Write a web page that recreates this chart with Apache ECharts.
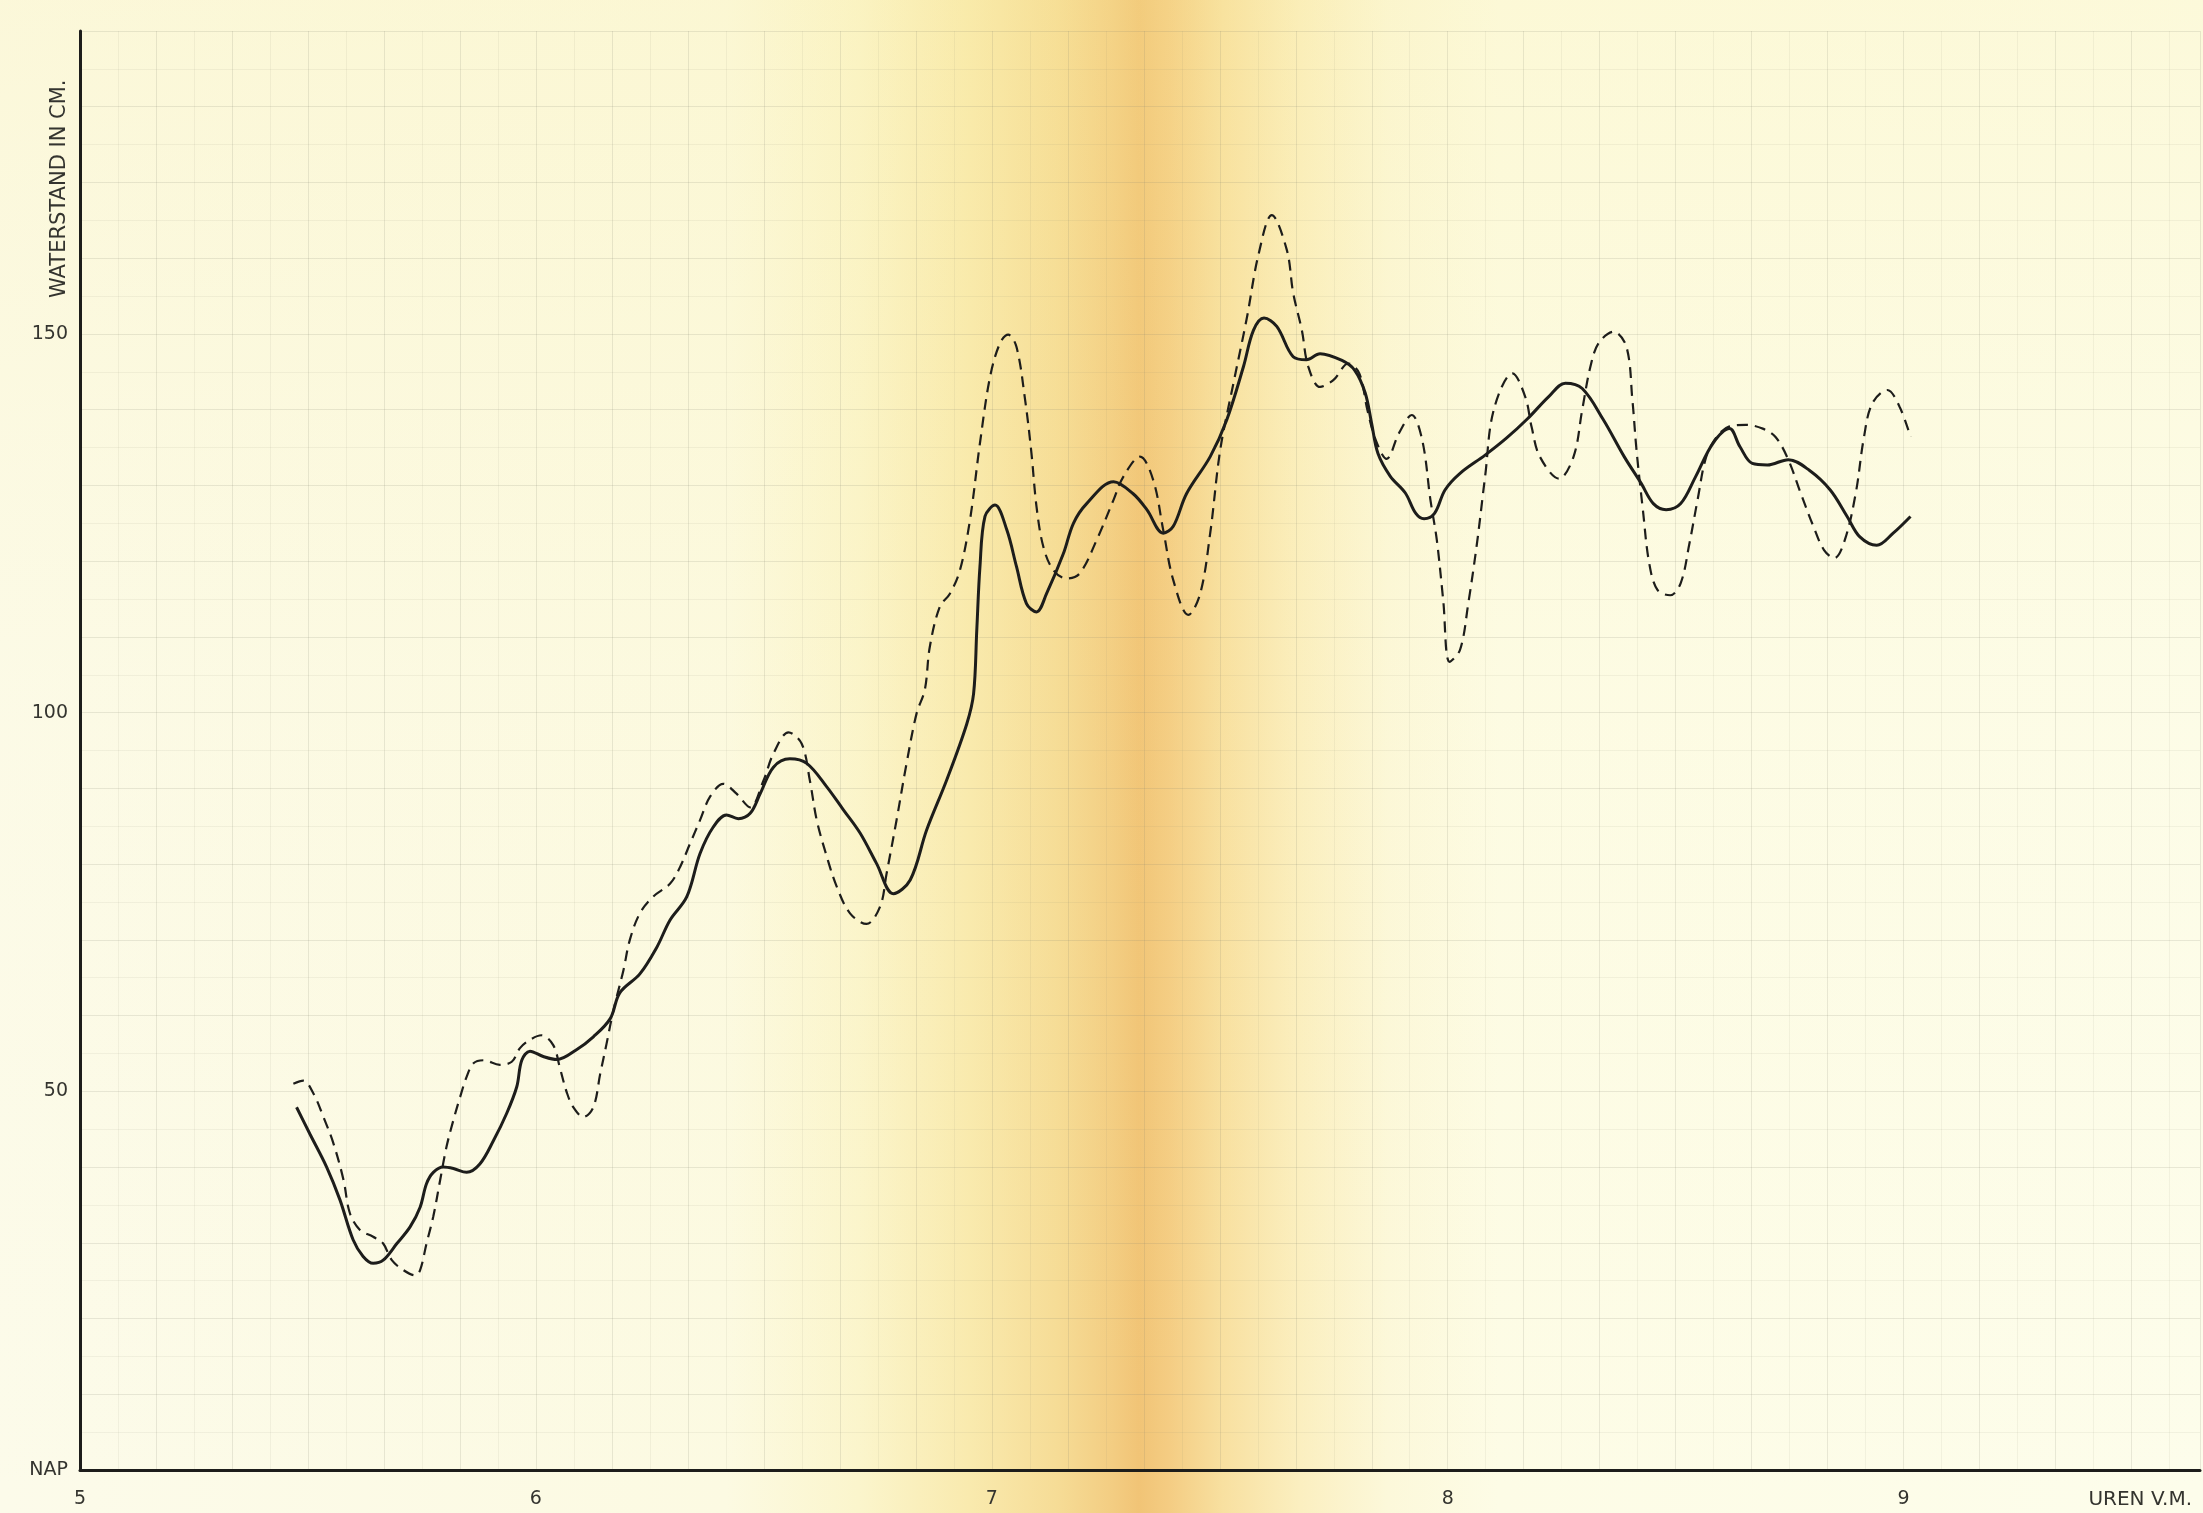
<!DOCTYPE html>
<html>
<head>
<meta charset="utf-8">
<title>Waterstand</title>
<script src="https://cdn.jsdelivr.net/npm/echarts@6/dist/echarts.min.js"></script>
<style>
  html, body { margin: 0; padding: 0; background: #fcfbea; }
  #chart { width: 2203px; height: 1513px; }
</style>
</head>
<body>
<div id="chart"></div>
<script>
// Time in hours (v.m.) and water level in cm above NAP.
const solidHours = [
  5.475, 5.504, 5.541, 5.570, 5.599, 5.621, 5.643, 5.665, 5.695, 5.724,
  5.746, 5.760, 5.775, 5.797, 5.819, 5.848, 5.877, 5.907, 5.936, 5.958,
  5.969, 5.987, 6.016, 6.046, 6.089, 6.126, 6.163, 6.184, 6.228, 6.265,
  6.294, 6.331, 6.360, 6.389, 6.418, 6.444, 6.470, 6.492, 6.521, 6.557,
  6.594, 6.638, 6.674, 6.711, 6.747, 6.784, 6.821, 6.857, 6.901, 6.945,
  6.960, 6.967, 6.974, 6.985, 7.007, 7.033, 7.054, 7.076, 7.098, 7.120,
  7.157, 7.179, 7.208, 7.267, 7.310, 7.340, 7.376, 7.398, 7.427, 7.479,
  7.515, 7.552, 7.574, 7.597, 7.625, 7.661, 7.690, 7.720, 7.768, 7.796,
  7.819, 7.833, 7.847, 7.874, 7.907, 7.930, 7.948, 7.971, 7.994, 8.027,
  8.082, 8.128, 8.175, 8.221, 8.258, 8.295, 8.341, 8.387, 8.424, 8.451,
  8.479, 8.511, 8.544, 8.581, 8.618, 8.641, 8.668, 8.701, 8.747, 8.793,
  8.839, 8.876, 8.904, 8.941, 8.977, 9.015
];
const solidLevels = [
  47.9, 44.4, 40.0, 35.7, 30.4, 28.2, 27.3, 27.7, 29.9, 32.1,
  34.7, 37.8, 39.3, 40.0, 39.8, 39.3, 40.4, 43.5, 47.1, 50.6,
  54.1, 55.3, 54.6, 54.2, 55.5, 57.2, 59.6, 63.0, 65.5, 69.0,
  72.6, 75.7, 81.4, 84.9, 86.5, 86.0, 86.7, 89.3, 92.8, 93.9,
  93.3, 90.2, 87.2, 84.1, 80.1, 76.1, 77.9, 84.5, 91.1, 98.5,
  102.5, 110.9, 119.3, 125.9, 127.4, 124.1, 119.3, 114.4, 113.3, 115.7,
  121.0, 125.0, 127.6, 130.5, 128.9, 126.8, 123.7, 124.6, 128.9, 133.8,
  138.6, 145.7, 150.5, 152.1, 151.0, 147.0, 146.6, 147.4, 146.5, 145.2,
  142.2, 138.2, 134.2, 131.2, 129.0, 126.3, 125.6, 126.3, 129.4, 131.6,
  134.0, 136.2, 138.8, 141.7, 143.5, 142.8, 138.7, 133.8, 130.3, 127.6,
  126.8, 127.6, 131.2, 135.5, 137.5, 135.1, 132.9, 132.7, 133.4, 132.0,
  129.4, 125.9, 123.2, 122.1, 123.7, 125.9
];

const dashedHours = [
  5.468, 5.490, 5.512, 5.534, 5.556, 5.578, 5.592, 5.614, 5.643, 5.665,
  5.684, 5.709, 5.735, 5.746, 5.760, 5.775, 5.790, 5.804, 5.819, 5.834,
  5.848, 5.863, 5.885, 5.921, 5.947, 5.965, 5.987, 6.012, 6.038, 6.053,
  6.068, 6.082, 6.104, 6.126, 6.141, 6.155, 6.170, 6.192, 6.206, 6.228,
  6.257, 6.294, 6.316, 6.338, 6.360, 6.382, 6.411, 6.440, 6.470, 6.499,
  6.521, 6.554, 6.583, 6.601, 6.616, 6.638, 6.660, 6.689, 6.725, 6.755,
  6.769, 6.791, 6.813, 6.835, 6.853, 6.864, 6.886, 6.908, 6.930, 6.952,
  6.974, 6.996, 7.018, 7.036, 7.054, 7.073, 7.087, 7.098, 7.113, 7.135,
  7.164, 7.193, 7.230, 7.267, 7.288, 7.325, 7.354, 7.376, 7.398, 7.431,
  7.457, 7.479, 7.501, 7.530, 7.559, 7.585, 7.614, 7.647, 7.661, 7.680,
  7.694, 7.720, 7.749, 7.782, 7.806, 7.824, 7.842, 7.866, 7.893, 7.921,
  7.944, 7.962, 7.976, 7.990, 8.004, 8.027, 8.045, 8.064, 8.082, 8.101,
  8.142, 8.170, 8.184, 8.202, 8.244, 8.276, 8.295, 8.313, 8.331, 8.364,
  8.392, 8.405, 8.414, 8.428, 8.442, 8.460, 8.488, 8.511, 8.530, 8.548,
  8.567, 8.590, 8.618, 8.654, 8.691, 8.719, 8.747, 8.774, 8.802, 8.825,
  8.848, 8.871, 8.895, 8.913, 8.931, 8.964, 8.991, 9.015
];
const dashedLevels = [
  51.0, 51.4, 49.7, 46.6, 43.1, 38.3, 33.9, 31.7, 30.8, 29.9,
  27.7, 26.4, 25.7, 26.4, 29.9, 33.5, 38.3, 42.7, 46.2, 49.3,
  51.9, 53.7, 54.1, 53.5, 53.9, 55.7, 56.8, 57.4, 56.1, 53.0,
  49.8, 47.9, 46.6, 47.9, 52.3, 56.3, 60.7, 66.0, 70.0, 73.5,
  75.7, 77.4, 79.6, 82.7, 85.8, 88.9, 90.6, 89.3, 87.5, 91.0,
  94.6, 97.4, 95.9, 91.0, 85.8, 81.0, 77.0, 73.5, 72.1, 74.4,
  78.7, 85.8, 93.3, 99.9, 103.0, 108.7, 114.0, 115.7, 118.8, 125.4,
  135.6, 144.3, 148.8, 149.9, 148.3, 141.3, 134.2, 127.2, 121.9, 118.8,
  117.7, 118.4, 122.8, 128.1, 131.1, 133.8, 130.7, 124.1, 117.5, 112.9,
  115.7, 123.7, 134.7, 143.5, 152.0, 160.5, 165.7, 161.1, 155.4, 150.5,
  145.7, 143.0, 143.9, 146.1, 144.8, 139.9, 136.0, 133.5, 136.9, 139.3,
  136.0, 128.1, 122.8, 114.9, 106.7, 108.3, 114.4, 122.3, 131.2, 140.0,
  144.8, 141.7, 137.7, 133.8, 130.9, 133.8, 140.0, 145.7, 148.8, 150.3,
  148.3, 141.3, 134.7, 126.8, 119.7, 116.2, 115.5, 117.1, 122.3, 128.1,
  133.8, 136.4, 137.8, 138.0, 137.5, 136.4, 133.4, 129.0, 124.6, 121.5,
  120.4, 122.8, 129.0, 136.4, 140.8, 142.6, 140.4, 136.4
];

// Axis tick labels
const hourLabels = ['5', '6', '7', '8', '9'];
const levelLabels = { 0: 'NAP', 50: '50', 100: '100', 150: '150' };
const xTitle = 'UREN V.M.';
const yTitle = 'WATERSTAND IN CM.';

const zip = (xs, ys) => xs.map((x, i) => [x, ys[i]]);

const ink = '#1d1d1b';
const textInk = '#34342f';
const labelFont = { color: textInk, fontFamily: 'DejaVu Sans', fontSize: 19 };
const gridMajor = 'rgba(130, 130, 110, 0.17)';
const gridMinor = 'rgba(130, 130, 110, 0.09)';

const W = 2203, H = 1513;
const chart = echarts.init(document.getElementById('chart'), null, { renderer: 'canvas' });

chart.setOption({
  backgroundColor: '#fcfbea',
  animation: false,
  graphic: [
    // paper tone with the darker band across the middle
    {
      type: 'rect', z: -100, silent: true,
      shape: { x: 0, y: 0, width: W, height: H },
      style: {
        fill: new echarts.graphic.LinearGradient(0, 0, 1, 0, [
          { offset: 0.00, color: '#fcfbea' },
          { offset: 0.33, color: '#fcfae2' },
          { offset: 0.39, color: '#fbf5cc' },
          { offset: 0.44, color: '#f9eaae' },
          { offset: 0.48, color: '#f6dc96' },
          { offset: 0.505, color: '#f3cd82' },
          { offset: 0.517, color: '#f1c476' },
          { offset: 0.53, color: '#f4cc82' },
          { offset: 0.555, color: '#f8e0a0' },
          { offset: 0.59, color: '#fbefc0' },
          { offset: 0.63, color: '#fcf8da' },
          { offset: 0.68, color: '#fdfce6' },
          { offset: 1.00, color: '#fdfdeb' }
        ])
      }
    },
    // slight yellowing towards the top edge
    {
      type: 'rect', z: -99, silent: true,
      shape: { x: 0, y: 0, width: W, height: H },
      style: {
        fill: new echarts.graphic.LinearGradient(0, 0, 0, 1, [
          { offset: 0, color: 'rgba(248, 234, 150, 0.20)' },
          { offset: 0.45, color: 'rgba(248, 234, 150, 0.05)' },
          { offset: 1, color: 'rgba(248, 234, 150, 0)' }
        ])
      }
    },
    {
      type: 'text', silent: true,
      x: 60, y: 298, rotation: Math.PI / 2,
      style: {
        text: yTitle,
        fill: textInk,
        font: '21px "DejaVu Sans"',
        textAlign: 'left', textVerticalAlign: 'middle',
        align: 'left', verticalAlign: 'middle'
      }
    },
    {
      type: 'text', silent: true,
      x: 2192, y: 1500,
      style: {
        text: xTitle,
        fill: textInk,
        font: '20px "DejaVu Sans"',
        textAlign: 'right', textVerticalAlign: 'middle',
        align: 'right', verticalAlign: 'middle'
      }
    }
  ],
  grid: { left: 80, right: 3, top: 31, bottom: 43, containLabel: false },
  xAxis: {
    type: 'value',
    min: 5,
    max: 9.65,
    interval: 1 / 6,
    axisLine: { show: true, onZero: false, lineStyle: { color: ink, width: 3 } },
    axisTick: { show: false },
    minorTick: { show: false, splitNumber: 2 },
    axisLabel: {
      ...labelFont,
      margin: 20,
      showMaxLabel: false,
      formatter: (v) => {
        const h = Math.round(v);
        if (Math.abs(v - h) > 1e-6) return '';
        const idx = h - 5;
        return hourLabels[idx] !== undefined ? hourLabels[idx] : '';
      }
    },
    splitLine: { show: true, lineStyle: { color: gridMajor, width: 1 } },
    minorSplitLine: { show: true, lineStyle: { color: gridMinor, width: 1 } }
  },
  yAxis: {
    type: 'value',
    min: 0,
    max: 190,
    interval: 10,
    axisLine: { show: true, onZero: false, lineStyle: { color: ink, width: 3 } },
    axisTick: { show: false },
    minorTick: { show: false, splitNumber: 2 },
    axisLabel: {
      ...labelFont,
      margin: 12,
      showMaxLabel: false,
      formatter: (v) => levelLabels[Math.round(v)] || ''
    },
    splitLine: { show: true, lineStyle: { color: gridMajor, width: 1 } },
    minorSplitLine: { show: true, lineStyle: { color: gridMinor, width: 1 } }
  },
  series: [
    {
      name: 'doorgetrokken',
      type: 'line',
      data: zip(solidHours, solidLevels),
      smooth: 0.35,
      showSymbol: false,
      lineStyle: { color: ink, width: 3 },
      z: 3
    },
    {
      name: 'gestreept',
      type: 'line',
      data: zip(dashedHours, dashedLevels),
      smooth: 0.35,
      showSymbol: false,
      lineStyle: { color: ink, width: 2.2, type: [11, 7] },
      z: 2
    }
  ]
});
</script>
</body>
</html>
